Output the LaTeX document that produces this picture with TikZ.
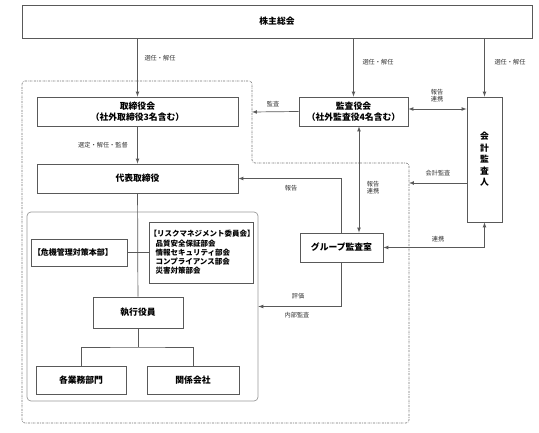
\documentclass[tikz,border=0pt]{standalone}
\usepackage{fontspec}
\setmainfont{Noto Sans CJK JP}
\begin{document}
\begin{tikzpicture}[>=latex, x=1pt, y=-1pt,
  box/.style={shape=rectangle, draw=black!65, line width=0.8pt, fill=white, inner sep=0pt, align=center, font=\bfseries\fontsize{8.8}{10.5}\selectfont},
  lbl/.style={inner sep=0pt, align=center, text=black!80, font=\fontsize{6.2}{7}\selectfont},
  conn/.style={draw=black!65, line width=0.7pt}]

  \useasboundingbox (0,0) rectangle (539,433);

  % outer frame and executive frame
  \draw [black!55, line width=0.6pt, dash pattern=on 2pt off 1pt on 0.6pt off 1pt, rounded corners=3pt]
    (22,81) -- (252,81) -- (252,163) -- (409,163) -- (409,423) -- (22,423) -- cycle;
  \node (shikkobu) at (142.5,306.5) [shape=rectangle, draw=black!40, line width=0.7pt, rounded corners=4pt, minimum width=231pt, minimum height=189pt] {};

  \node (kabunushi) at (277,21.5) [box, minimum width=510pt, minimum height=33pt] {株主総会};
  \node (torishimari) at (137.5,111.5) [box, minimum width=201pt, minimum height=29pt] {取締役会\\（社外取締役3名含む）};
  \node (daihyo) at (137.5,178.5) [box, minimum width=201pt, minimum height=29pt] {代表取締役};
  \node (kansayaku) at (353.5,111.5) [box, minimum width=109pt, minimum height=29pt] {監査役会\\（社外監査役4名含む）};
  \node (kaikei) at (484.5,159.5) [box, minimum width=35pt, minimum height=125pt, font=\bfseries\fontsize{8.8}{11.5}\selectfont] {会\\計\\監\\査\\人};
  \node (group) at (341.5,247.5) [box, minimum width=83pt, minimum height=29pt] {グループ監査室};
  \node (kiki) at (79,252.5) [box, minimum width=96pt, minimum height=27pt, font=\bfseries\fontsize{8}{9}\selectfont, text width=92pt, align=left] {【危機管理対策本部】};
  \node (risk) at (201,252.5) [box, minimum width=104pt, minimum height=61pt, font=\bfseries\fontsize{7.5}{9.2}\selectfont, text width=103pt, align=left]
    {【リスクマネジメント委員会】\\\hspace{6pt}品質安全保証部会\\\hspace{6pt}情報セキュリティ部会\\\hspace{6pt}コンプライアンス部会\\\hspace{6pt}災害対策部会};
  \node (shikko) at (138,312.5) [box, minimum width=90pt, minimum height=31pt] {執行役員};
  \node (gyomu) at (81,380) [box, minimum width=90pt, minimum height=28pt] {各業務部門};
  \node (kankei) at (193,380) [box, minimum width=92pt, minimum height=28pt] {関係会社};

  \coordinate (kansaten) at (252,112);
  \coordinate (kaikeiten) at (409,183);
  \coordinate (bunki) at (138,347);

  \draw [conn,->] (kabunushi.south -| torishimari) -- (torishimari);
  \draw [conn,->] (kabunushi.south -| kansayaku) -- (kansayaku);
  \draw [conn,->] (kabunushi.south -| kaikei) -- (kaikei);
  \draw [conn,->] (torishimari) -- (daihyo);
  \draw [conn,->] (kansayaku.west) -- (kansaten);
  \draw [conn,<->] ([yshift=2.5pt]kansayaku.east) -- ([yshift=2.5pt]kansayaku.east -| kaikei.west);
  \draw [conn,->] (kaikei.west |- kaikeiten) -- (kaikeiten);
  \draw [conn,->] (group.north) |- (daihyo.east);
  \draw [conn,<->] ([xshift=5.5pt]kansayaku.south) -- ([xshift=5.5pt]kansayaku.south |- group.north);
  \draw [conn,<->] (group.east) -| (kaikei.south);
  \draw [conn,->] (group.south) |- (shikkobu.east);

  \draw [conn] (daihyo) -- (shikko);
  \draw [conn] (kiki) -- (risk);
  \draw [conn] (shikko) -- (bunki);
  \draw [conn] (gyomu) |- (bunki) -| (kankei);

  \node (l1) at (160,58) [lbl] {選任・解任};
  \node (l2) at (378,62) [lbl] {選任・解任};
  \node (l3) at (510,62) [lbl] {選任・解任};
  \node (l4) at (103,145) [lbl] {選定・解任・監督};
  \node (l5) at (273,104) [lbl] {監査};
  \node (l6) at (437,96) [lbl] {報告\\連携};
  \node (l7) at (438,173) [lbl] {会計監査};
  \node (l8) at (291,188) [lbl] {報告};
  \node (l9) at (373,188) [lbl] {報告\\連携};
  \node (l10) at (438,239) [lbl] {連携};
  \node (l11) at (298,296) [lbl] {評価};
  \node (l12) at (297,315) [lbl] {内部監査};

\end{tikzpicture}
\end{document}
